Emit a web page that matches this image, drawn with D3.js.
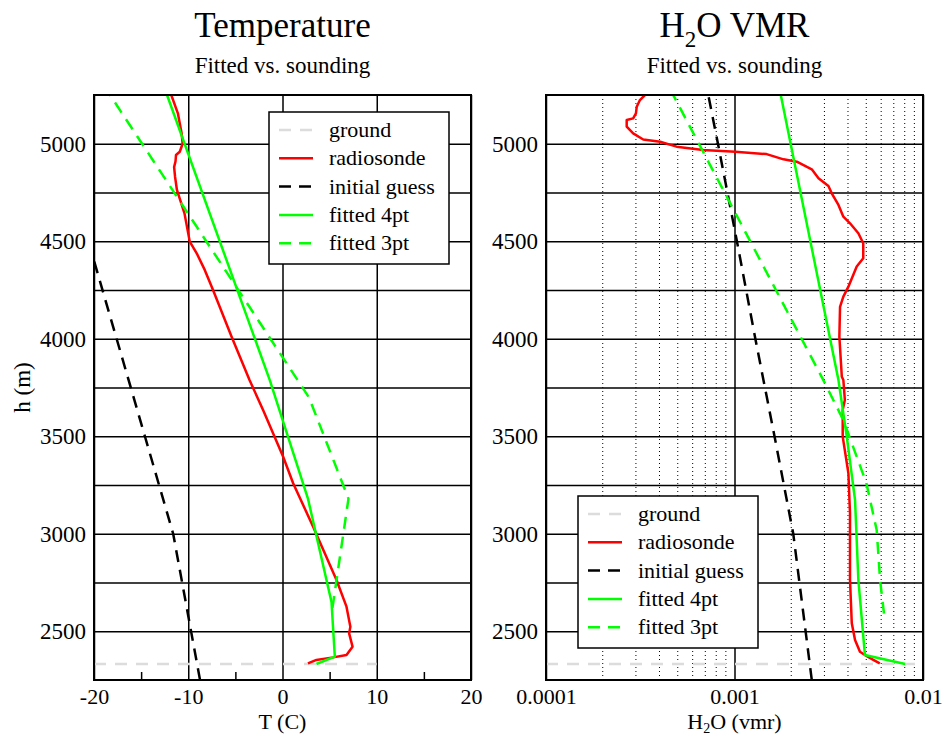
<!DOCTYPE html>
<html>
<head>
<meta charset="utf-8">
<script src="https://cdn.jsdelivr.net/npm/d3@7"></script>
<style>
  body { margin: 0; background: #fff; }
  text { font-family: "Liberation Serif", "Times New Roman", serif; fill: #000; }
</style>
</head>
<body>
<svg id="chart" width="944" height="737"></svg>
<script>
// ---- data: [value, height (m)] ----
const groundHeight = 2332;

const tempRadiosonde = [
  [2.7, 2335], [3.6, 2353], [5.37, 2366], [6.79, 2378], [7.43, 2421], [7.07, 2489],
  [7.2, 2523], [6.79, 2626], [5.73, 2763], [3.25, 3036], [1.13, 3259], [0.07, 3395],
  [-2.06, 3635], [-3.5, 3788], [-5.4, 4010], [-7.37, 4250], [-8.25, 4353], [-9.1, 4438],
  [-9.84, 4498], [-10.4, 4643], [-11.2, 4763], [-11.4, 4831], [-11.5, 4880], [-11.35, 4910],
  [-11.3, 4942], [-10.9, 4959], [-10.6, 5000], [-10.7, 5053], [-11.1, 5156], [-11.8, 5250]
];
const tempInitial = [
  [-8.75, 2250], [-11.6, 3000], [-14.6, 3500], [-17.6, 4000], [-20.6, 4500], [-23.6, 5000], [-25.1, 5250]
];
const tempFit4 = [
  [3.6, 2332], [5.55, 2370], [5.2, 2650], [2.7, 3180], [-1.35, 3788], [-12.25, 5250]
];
const tempFit3 = [
  [5.3, 2620], [7.0, 3180], [2.8, 3700], [-18.3, 5250]
];

const vmrRadiosonde = [
  [5.9e-3, 2335], [5.45e-3, 2353], [5.01e-3, 2373], [4.63e-3, 2395], [4.36e-3, 2455],
  [4.19e-3, 2541], [4.10e-3, 2763], [4.10e-3, 3105], [4.02e-3, 3310], [3.75e-3, 3498],
  [3.75e-3, 3635], [3.85e-3, 3686], [3.78e-3, 3788], [3.71e-3, 3805], [3.60e-3, 4010],
  [3.63e-3, 4164], [3.78e-3, 4216], [4.02e-3, 4267], [4.45e-3, 4370], [4.82e-3, 4413],
  [4.82e-3, 4490], [4.54e-3, 4541], [4.10e-3, 4592], [3.78e-3, 4626], [3.56e-3, 4686],
  [3.28e-3, 4746], [3.15e-3, 4783], [2.79e-3, 4823], [2.57e-3, 4869], [2.14e-3, 4908],
  [1.82e-3, 4920], [1.48e-3, 4947], [1.01e-3, 4959], [6.82e-4, 4968], [4.93e-4, 4985],
  [4.03e-4, 5010], [3.28e-4, 5022], [2.90e-4, 5053], [2.68e-4, 5088], [2.68e-4, 5122],
  [2.90e-4, 5130], [3.00e-4, 5156], [3.03e-4, 5190], [3.15e-4, 5224], [3.35e-4, 5250]
];
const vmrInitial = [
  [2.57e-3, 2250], [2.05e-3, 3000], [1.63e-3, 3500], [1.29e-3, 4000],
  [1.03e-3, 4500], [8.17e-4, 5000], [7.26e-4, 5250]
];
const vmrFit4 = [
  [8.04e-3, 2332], [4.92e-3, 2378], [4.54e-3, 2763], [4.36e-3, 3173],
  [3.94e-3, 3498], [3.56e-3, 3788], [1.76e-3, 5250]
];
const vmrFit3 = [
  [6.21e-3, 2590], [5.92e-3, 2763], [5.68e-3, 3019], [5.01e-3, 3259],
  [3.78e-3, 3583], [2.96e-3, 3788], [4.73e-4, 5250]
];

// ---- ticks ----
const heightGrid = [2500, 2750, 3000, 3250, 3500, 3750, 4000, 4250, 4500, 4750, 5000];
const heightLabels = [2500, 3000, 3500, 4000, 4500, 5000];
const tempTicks = [-20, -10, 0, 10, 20];
const tempMinorTicks = [-15, -5, 5, 15];
const vmrTicks = [1e-4, 1e-3, 1e-2];
const vmrTickText = ["0.0001", "0.001", "0.01"];
const vmrMinor = [2e-4, 3e-4, 4e-4, 5e-4, 6e-4, 7e-4, 8e-4, 9e-4,
                  2e-3, 3e-3, 4e-3, 5e-3, 6e-3, 7e-3, 8e-3, 9e-3];

const legendEntries = [
  { label: "ground", color: "#dcdcdc", dash: "12,9" },
  { label: "radiosonde", color: "#ff0000", dash: null },
  { label: "initial guess", color: "#000000", dash: "12,8" },
  { label: "fitted 4pt", color: "#00ff00", dash: null },
  { label: "fitted 3pt", color: "#00ff00", dash: "12,8" }
];

// ---- layout ----
const svg = d3.select("#chart");
const plotTop = 95, plotBottom = 680;
const y = d3.scaleLinear().domain([2250, 5250]).range([plotBottom, plotTop]);

const xT = d3.scaleLinear().domain([-20, 20]).range([94, 471]);
const xV = d3.scaleLog().domain([1e-4, 1e-2]).range([546, 923]);

const serif = "'Liberation Serif','Times New Roman',serif";

function drawPanel(id, x, series, opts) {
  const [x0, x1] = x.range();
  const g = svg.append("g").attr("class", id);
  const clipId = "clip-" + id;
  svg.append("clipPath").attr("id", clipId)
    .append("rect").attr("x", x0).attr("y", plotTop).attr("width", x1 - x0).attr("height", plotBottom - plotTop);

  // dotted minor grid
  if (opts.minorGrid) {
    g.append("g").selectAll("line").data(opts.minorGrid).join("line")
      .attr("x1", d => x(d)).attr("x2", d => x(d))
      .attr("y1", plotTop).attr("y2", plotBottom)
      .attr("stroke", "#000").attr("stroke-width", 1).attr("stroke-dasharray", "1,3");
  }

  // horizontal grid + height labels
  const yAxis = d3.axisLeft(y).tickValues(heightGrid).tickSize(-(x1 - x0)).tickPadding(8)
    .tickFormat(d => heightLabels.includes(d) ? String(d) : "");
  const ya = g.append("g").attr("transform", `translate(${x0},0)`).call(yAxis);
  ya.select(".domain").remove();
  ya.selectAll(".tick line").attr("stroke", "#000").attr("stroke-width", 1.5);
  ya.selectAll(".tick text").style("font-size", "23px").style("font-family", serif).attr("fill", "#000");

  // vertical major grid + x labels
  const xAxis = d3.axisBottom(x).tickValues(opts.ticks).tickSize(-(plotBottom - plotTop)).tickPadding(8)
    .tickFormat((d, i) => opts.tickText[i]);
  const xa = g.append("g").attr("transform", `translate(0,${plotBottom})`).call(xAxis);
  xa.select(".domain").remove();
  xa.selectAll(".tick line").attr("stroke", "#000").attr("stroke-width", 1.5);
  xa.selectAll(".tick text").style("font-size", "22px").style("font-family", serif).attr("fill", "#000");

  if (opts.minorTicks) {
    const ma = g.append("g").attr("transform", `translate(0,${plotBottom})`)
      .call(d3.axisBottom(x).tickValues(opts.minorTicks).tickSize(-8).tickFormat(""));
    ma.select(".domain").remove();
    ma.selectAll(".tick line").attr("stroke", "#000").attr("stroke-width", 1.5);
  }

  // data lines
  const line = d3.line().x(d => x(d[0])).y(d => y(d[1]));
  const lines = g.append("g").attr("clip-path", `url(#${clipId})`);
  lines.append("line")
    .attr("x1", x0).attr("x2", x(opts.groundTo))
    .attr("y1", y(groundHeight)).attr("y2", y(groundHeight))
    .attr("stroke", legendEntries[0].color).attr("stroke-width", 2.5)
    .attr("stroke-dasharray", legendEntries[0].dash);
  series.forEach((s, i) => {
    const e = legendEntries[i + 1];
    lines.append("path").datum(s).attr("d", line)
      .attr("fill", "none").attr("stroke", e.color).attr("stroke-width", 2.5)
      .attr("stroke-linejoin", "round")
      .attr("stroke-dasharray", e.dash);
  });

  // frame
  g.append("rect").attr("x", x0).attr("y", plotTop).attr("width", x1 - x0).attr("height", plotBottom - plotTop)
    .attr("fill", "none").attr("stroke", "#000").attr("stroke-width", 2);

  // legend
  const L = opts.legend;
  const lg = g.append("g");
  lg.append("rect").attr("x", L.x).attr("y", L.y).attr("width", L.w).attr("height", L.h)
    .attr("fill", "#fff").attr("stroke", "#000").attr("stroke-width", 1.5);
  legendEntries.forEach((e, i) => {
    const cy = L.y + 18 + i * 28.3;
    lg.append("line").attr("x1", L.x + 10).attr("x2", L.x + 44).attr("y1", cy).attr("y2", cy)
      .attr("stroke", e.color).attr("stroke-width", 2.5).attr("stroke-dasharray", e.dash);
    lg.append("text").attr("x", L.x + 60).attr("y", cy + 7).style("font-size", "22px").text(e.label);
  });
}

drawPanel("temp", xT, [tempRadiosonde, tempInitial, tempFit4, tempFit3], {
  ticks: tempTicks, tickText: tempTicks.map(String), minorTicks: tempMinorTicks, groundTo: 10,
  legend: { x: 269, y: 112, w: 180, h: 152 }
});
drawPanel("vmr", xV, [vmrRadiosonde, vmrInitial, vmrFit4, vmrFit3], {
  ticks: vmrTicks, tickText: vmrTickText, minorGrid: vmrMinor, groundTo: 1e-2,
  legend: { x: 578, y: 496, w: 180, h: 152 }
});

// ---- titles ----
const cxT = (xT.range()[0] + xT.range()[1]) / 2;
const cxV = (xV.range()[0] + xV.range()[1]) / 2;

svg.append("text").attr("x", cxT).attr("y", 37).attr("text-anchor", "middle")
  .style("font-size", "35px").text("Temperature");
svg.append("text").attr("x", cxT).attr("y", 73).attr("text-anchor", "middle")
  .style("font-size", "23px").text("Fitted vs. sounding");

const tV = svg.append("text").attr("x", cxV).attr("y", 37).attr("text-anchor", "middle")
  .style("font-size", "35px");
tV.append("tspan").text("H");
tV.append("tspan").attr("dy", 10).style("font-size", "23px").text("2");
tV.append("tspan").attr("dy", -10).text("O VMR");
svg.append("text").attr("x", cxV).attr("y", 73).attr("text-anchor", "middle")
  .style("font-size", "23px").text("Fitted vs. sounding");

// ---- axis titles ----
svg.append("text").attr("x", cxT).attr("y", 729).attr("text-anchor", "middle")
  .style("font-size", "22px").text("T (C)");
const aV = svg.append("text").attr("x", cxV).attr("y", 729).attr("text-anchor", "middle")
  .style("font-size", "22px");
aV.append("tspan").text("H");
aV.append("tspan").attr("dy", 4).style("font-size", "14px").text("2");
aV.append("tspan").attr("dy", -4).text("O (vmr)");

svg.append("text").attr("transform", `translate(30,${(plotTop + plotBottom) / 2}) rotate(-90)`)
  .attr("text-anchor", "middle").style("font-size", "23px").text("h (m)");
</script>
</body>
</html>
